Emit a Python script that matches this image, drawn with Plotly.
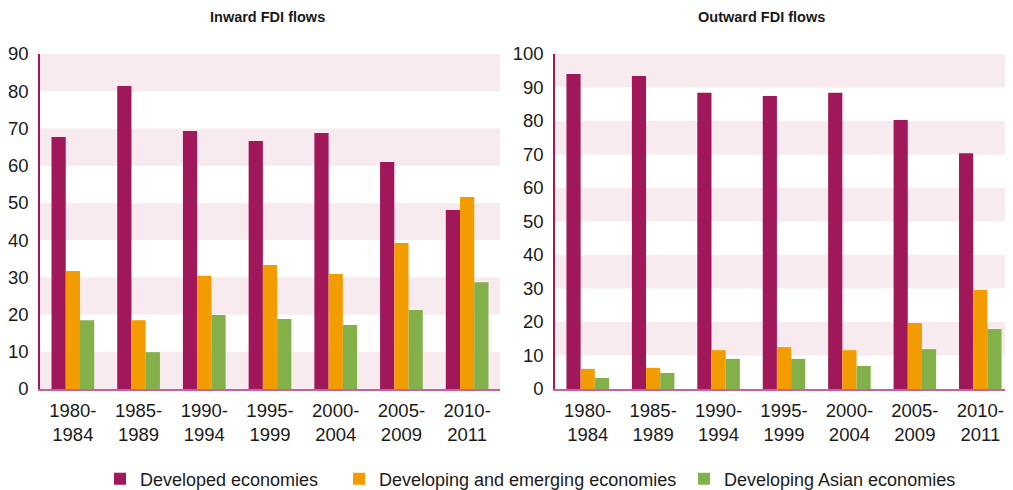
import plotly.graph_objects as go

periods = ["1980-<br>1984", "1985-<br>1989", "1990-<br>1994", "1995-<br>1999",
           "2000-<br>2004", "2005-<br>2009", "2010-<br>2011"]

inward_developed = [67.7, 81.4, 69.3, 66.6, 68.8, 61.0, 48.1]
inward_developing = [31.7, 18.5, 30.4, 33.3, 30.9, 39.2, 51.6]
inward_asia = [18.5, 9.9, 19.9, 18.8, 17.2, 21.2, 28.7]

outward_developed = [94.0, 93.4, 88.4, 87.5, 88.4, 80.3, 70.4]
outward_developing = [6.0, 6.3, 11.6, 12.5, 11.6, 19.7, 29.6]
outward_asia = [3.3, 4.8, 9.0, 9.0, 6.9, 11.9, 17.9]

series_names = ["Developed economies", "Developing and emerging economies",
                "Developing Asian economies"]
colors = ["#A1185A", "#F39C00", "#84B04A"]

inward_max = 90
outward_max = 100
band_color = "#F8EBF0"
FONT = "Liberation Sans, Arial, sans-serif"

# The page body has an 8px margin; the figure is placed at (8, 8) on screen.
SW, SH = 1013, 490
OX, OY = 8, 8
W, H = SW - OX, SH - OY


def px(x):
    return (x - OX) / W


def py(y):
    return (SH - y) / H


fig = go.Figure()

legend_ids = ["legend", "legend2", "legend3"]
inward = [inward_developed, inward_developing, inward_asia]
outward = [outward_developed, outward_developing, outward_asia]
for i, (name, col) in enumerate(zip(series_names, colors)):
    fig.add_trace(go.Bar(x=periods, y=inward[i], name=name, marker_color=col,
                         marker_line_width=0, xaxis="x", yaxis="y",
                         legendgroup=name, showlegend=True, legend=legend_ids[i]))
for i, (name, col) in enumerate(zip(series_names, colors)):
    fig.add_trace(go.Bar(x=periods, y=outward[i], name=name, marker_color=col,
                         marker_line_width=0, xaxis="x2", yaxis="y2",
                         legendgroup=name, showlegend=False))

shapes = []
# alternate bands: topmost band shaded
for yref, top in (("y", inward_max), ("y2", outward_max)):
    xref = "x domain" if yref == "y" else "x2 domain"
    t = top
    while t > 0:
        shapes.append(dict(type="rect", xref=xref, yref=yref, x0=0, x1=1,
                           y0=t - 10, y1=t, fillcolor=band_color,
                           line_width=0, layer="below"))
        t -= 20

ydom = [py(389), py(54)]

axis_common = dict(showgrid=False, zeroline=False, automargin=False,
                   tickfont=dict(size=18.5, color="#1a1a1a", family=FONT))

legend_common = dict(orientation="h", xanchor="left", y=py(479), yanchor="middle",
                     font=dict(size=18, family=FONT, color="#1a1a1a"),
                     bgcolor="rgba(0,0,0,0)")

fig.update_layout(
    width=W, height=H,
    margin=dict(l=0, r=0, t=0, b=0, autoexpand=False),
    paper_bgcolor="white", plot_bgcolor="rgba(0,0,0,0)",
    barmode="group", bargap=0.35, bargroupgap=0,
    font=dict(family=FONT, color="#1a1a1a"),
    shapes=shapes,
    xaxis=dict(domain=[px(40), px(500)], anchor="y", showline=True,
               linecolor="#C0649A", linewidth=2, ticks="", ticklabelstandoff=4,
               **axis_common),
    yaxis=dict(domain=ydom, anchor="x", range=[0, inward_max], dtick=10,
               showline=True, linecolor="#A1185A", linewidth=1.5, ticks="",
               ticklabelstandoff=6, **axis_common),
    xaxis2=dict(domain=[px(555), 1.0], anchor="y2", showline=True,
                linecolor="#C0649A", linewidth=2, ticks="", ticklabelstandoff=4,
                **axis_common),
    yaxis2=dict(domain=ydom, anchor="x2", range=[0, outward_max], dtick=10,
                showline=True, linecolor="#A1185A", linewidth=1.5, ticks="",
                ticklabelstandoff=6, **axis_common),
    legend=dict(x=px(100), **legend_common),
    legend2=dict(x=px(339), **legend_common),
    legend3=dict(x=px(684), **legend_common),
    annotations=[
        dict(text="<b>Inward FDI flows</b>", x=px(267), y=py(17),
             xref="paper", yref="paper", showarrow=False,
             xanchor="center", yanchor="middle",
             font=dict(size=14.5, family=FONT, color="#1a1a1a")),
        dict(text="<b>Outward FDI flows</b>", x=px(761), y=py(17),
             xref="paper", yref="paper", showarrow=False,
             xanchor="center", yanchor="middle",
             font=dict(size=14.5, family=FONT, color="#1a1a1a")),
    ],
)

fig.write_html("out.html")
